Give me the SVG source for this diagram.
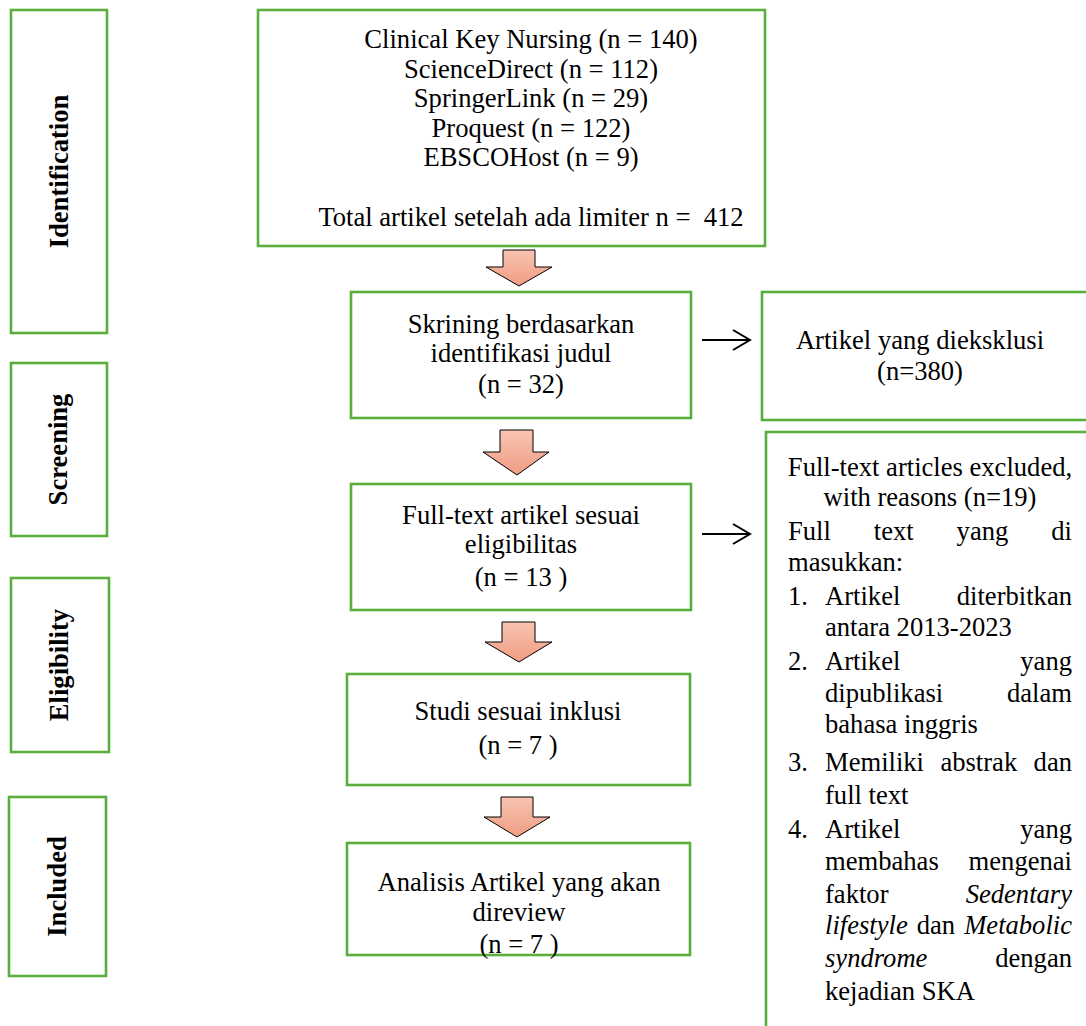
<svg xmlns="http://www.w3.org/2000/svg" width="1086" height="1026" viewBox="0 0 1086 1026">
<style>
.box{fill:#fff;stroke:#5AAE3C;stroke-width:2.6}
.t{font-family:"Liberation Serif","Times New Roman",serif;font-size:26.6px;fill:#000}
.c{text-anchor:middle}
.e{text-anchor:end}
.b{font-weight:bold}
.i{font-style:italic}
.blk{fill:url(#g);stroke:#000;stroke-width:1}
.ln{fill:none;stroke:#000;stroke-width:2}
</style>
<defs>
<linearGradient id="g" x1="0" y1="0" x2="0" y2="1">
<stop offset="0" stop-color="#F8C4B2"/>
<stop offset="1" stop-color="#F09C82"/>
</linearGradient>
</defs>
<rect width="1086" height="1026" fill="#fff"/>

<g id="stage-identification">
<rect class="box" x="11" y="10" width="96" height="323"/>
<text class="t b c" transform="translate(68,171.5) rotate(-90)">Identification</text>
</g>
<g id="stage-screening">
<rect class="box" x="11" y="363" width="96" height="173"/>
<text class="t b c" transform="translate(67,449.5) rotate(-90)">Screening</text>
</g>
<g id="stage-eligibility">
<rect class="box" x="11" y="578" width="98" height="174"/>
<text class="t b c" transform="translate(68,665) rotate(-90)">Eligibility</text>
</g>
<g id="stage-included">
<rect class="box" x="9" y="797" width="97" height="179"/>
<text class="t b c" transform="translate(66,886.5) rotate(-90)">Included</text>
</g>

<g id="identification">
<rect class="box" x="258" y="10" width="507" height="236"/>
<text class="t c" x="531" y="48">Clinical Key Nursing (n = 140)</text>
<text class="t c" x="531" y="78">ScienceDirect (n = 112)</text>
<text class="t c" x="531" y="107">SpringerLink (n = 29)</text>
<text class="t c" x="531" y="137">Proquest (n = 122)</text>
<text class="t c" x="531" y="166">EBSCOHost (n = 9)</text>
<text class="t c" x="531" y="226" xml:space="preserve">Total artikel setelah ada limiter n =  412</text>
</g>

<g id="screening">
<rect class="box" x="351" y="292" width="340" height="126"/>
<text class="t c" x="521" y="333">Skrining berdasarkan</text>
<text class="t c" x="521" y="362">identifikasi judul</text>
<text class="t c" x="521" y="393">(n = 32)</text>
</g>

<g id="excluded">
<rect class="box" x="762" y="292" width="340" height="128"/>
<text class="t c" x="920" y="349">Artikel yang dieksklusi</text>
<text class="t c" x="920" y="380">(n=380)</text>
</g>

<g id="fulltext">
<rect class="box" x="351" y="484" width="340" height="126"/>
<text class="t c" x="521" y="524">Full-text artikel sesuai</text>
<text class="t c" x="521" y="553">eligibilitas</text>
<text class="t c" x="521" y="586">(n = 13 )</text>
</g>

<g id="fulltext-excluded">
<rect class="box" x="766" y="432" width="340" height="620"/>
<text class="t c" x="930" y="476">Full-text articles excluded,</text>
<text class="t c" x="930" y="506">with reasons (n=19)</text>
<text class="t" y="540"><tspan x="788">Full</tspan><tspan x="873.8">text</tspan><tspan x="956.6">yang</tspan><tspan x="1072" text-anchor="end">di</tspan></text>
<text class="t" x="788" y="571">masukkan:</text>
<text class="t" y="605"><tspan x="788">1.</tspan><tspan x="825">Artikel</tspan><tspan x="1072" text-anchor="end">diterbitkan</tspan></text>
<text class="t" x="825" y="636">antara 2013-2023</text>
<text class="t" y="670"><tspan x="788">2.</tspan><tspan x="825">Artikel</tspan><tspan x="1072" text-anchor="end">yang</tspan></text>
<text class="t" y="702"><tspan x="825">dipublikasi</tspan><tspan x="1072" text-anchor="end">dalam</tspan></text>
<text class="t" x="825" y="733">bahasa inggris</text>
<text class="t" y="771"><tspan x="788">3.</tspan><tspan x="825">Memiliki</tspan><tspan x="940.4">abstrak</tspan><tspan x="1072" text-anchor="end">dan</tspan></text>
<text class="t" x="825" y="804">full text</text>
<text class="t" y="838"><tspan x="788">4.</tspan><tspan x="825">Artikel</tspan><tspan x="1072" text-anchor="end">yang</tspan></text>
<text class="t" y="870"><tspan x="825">membahas</tspan><tspan x="1072" text-anchor="end">mengenai</tspan></text>
<text class="t" y="903"><tspan x="825">faktor</tspan><tspan x="1072" text-anchor="end" font-style="italic">Sedentary</tspan></text>
<text class="t" y="934"><tspan x="825" font-style="italic">lifestyle</tspan><tspan x="916.7">dan</tspan><tspan x="1072" text-anchor="end" font-style="italic">Metabolic</tspan></text>
<text class="t" y="967"><tspan x="825" font-style="italic">syndrome</tspan><tspan x="1072" text-anchor="end">dengan</tspan></text>
<text class="t" x="825" y="1000">kejadian SKA</text>
</g>

<g id="inclusion">
<rect class="box" x="347" y="674" width="343" height="111"/>
<text class="t c" x="518" y="720">Studi sesuai inklusi</text>
<text class="t c" x="518" y="754">(n = 7 )</text>
</g>

<g id="analysis">
<rect class="box" x="347" y="843" width="343" height="112"/>
<text class="t c" x="519" y="891">Analisis Artikel yang akan</text>
<text class="t c" x="519" y="921">direview</text>
<text class="t c" x="519" y="953">(n = 7 )</text>
</g>

<g id="connectors">
<polygon class="blk" points="503,250 535,250 535,267 552,267 519,286 486,267 503,267"/>
<polygon class="blk" points="500,430 533,430 533,452 549,452 517,475 483,452 500,452"/>
<polygon class="blk" points="502,622 535,622 535,642 552,642 519,662 485,642 502,642"/>
<polygon class="blk" points="501,797 533,797 533,817 550,817 517,837 484,817 501,817"/>
<path class="ln" d="M702,340 H749 M733,330 L750,340 L733,350"/>
<path class="ln" d="M702,534 H749 M733,524 L750,534 L733,544"/>
</g>
</svg>
